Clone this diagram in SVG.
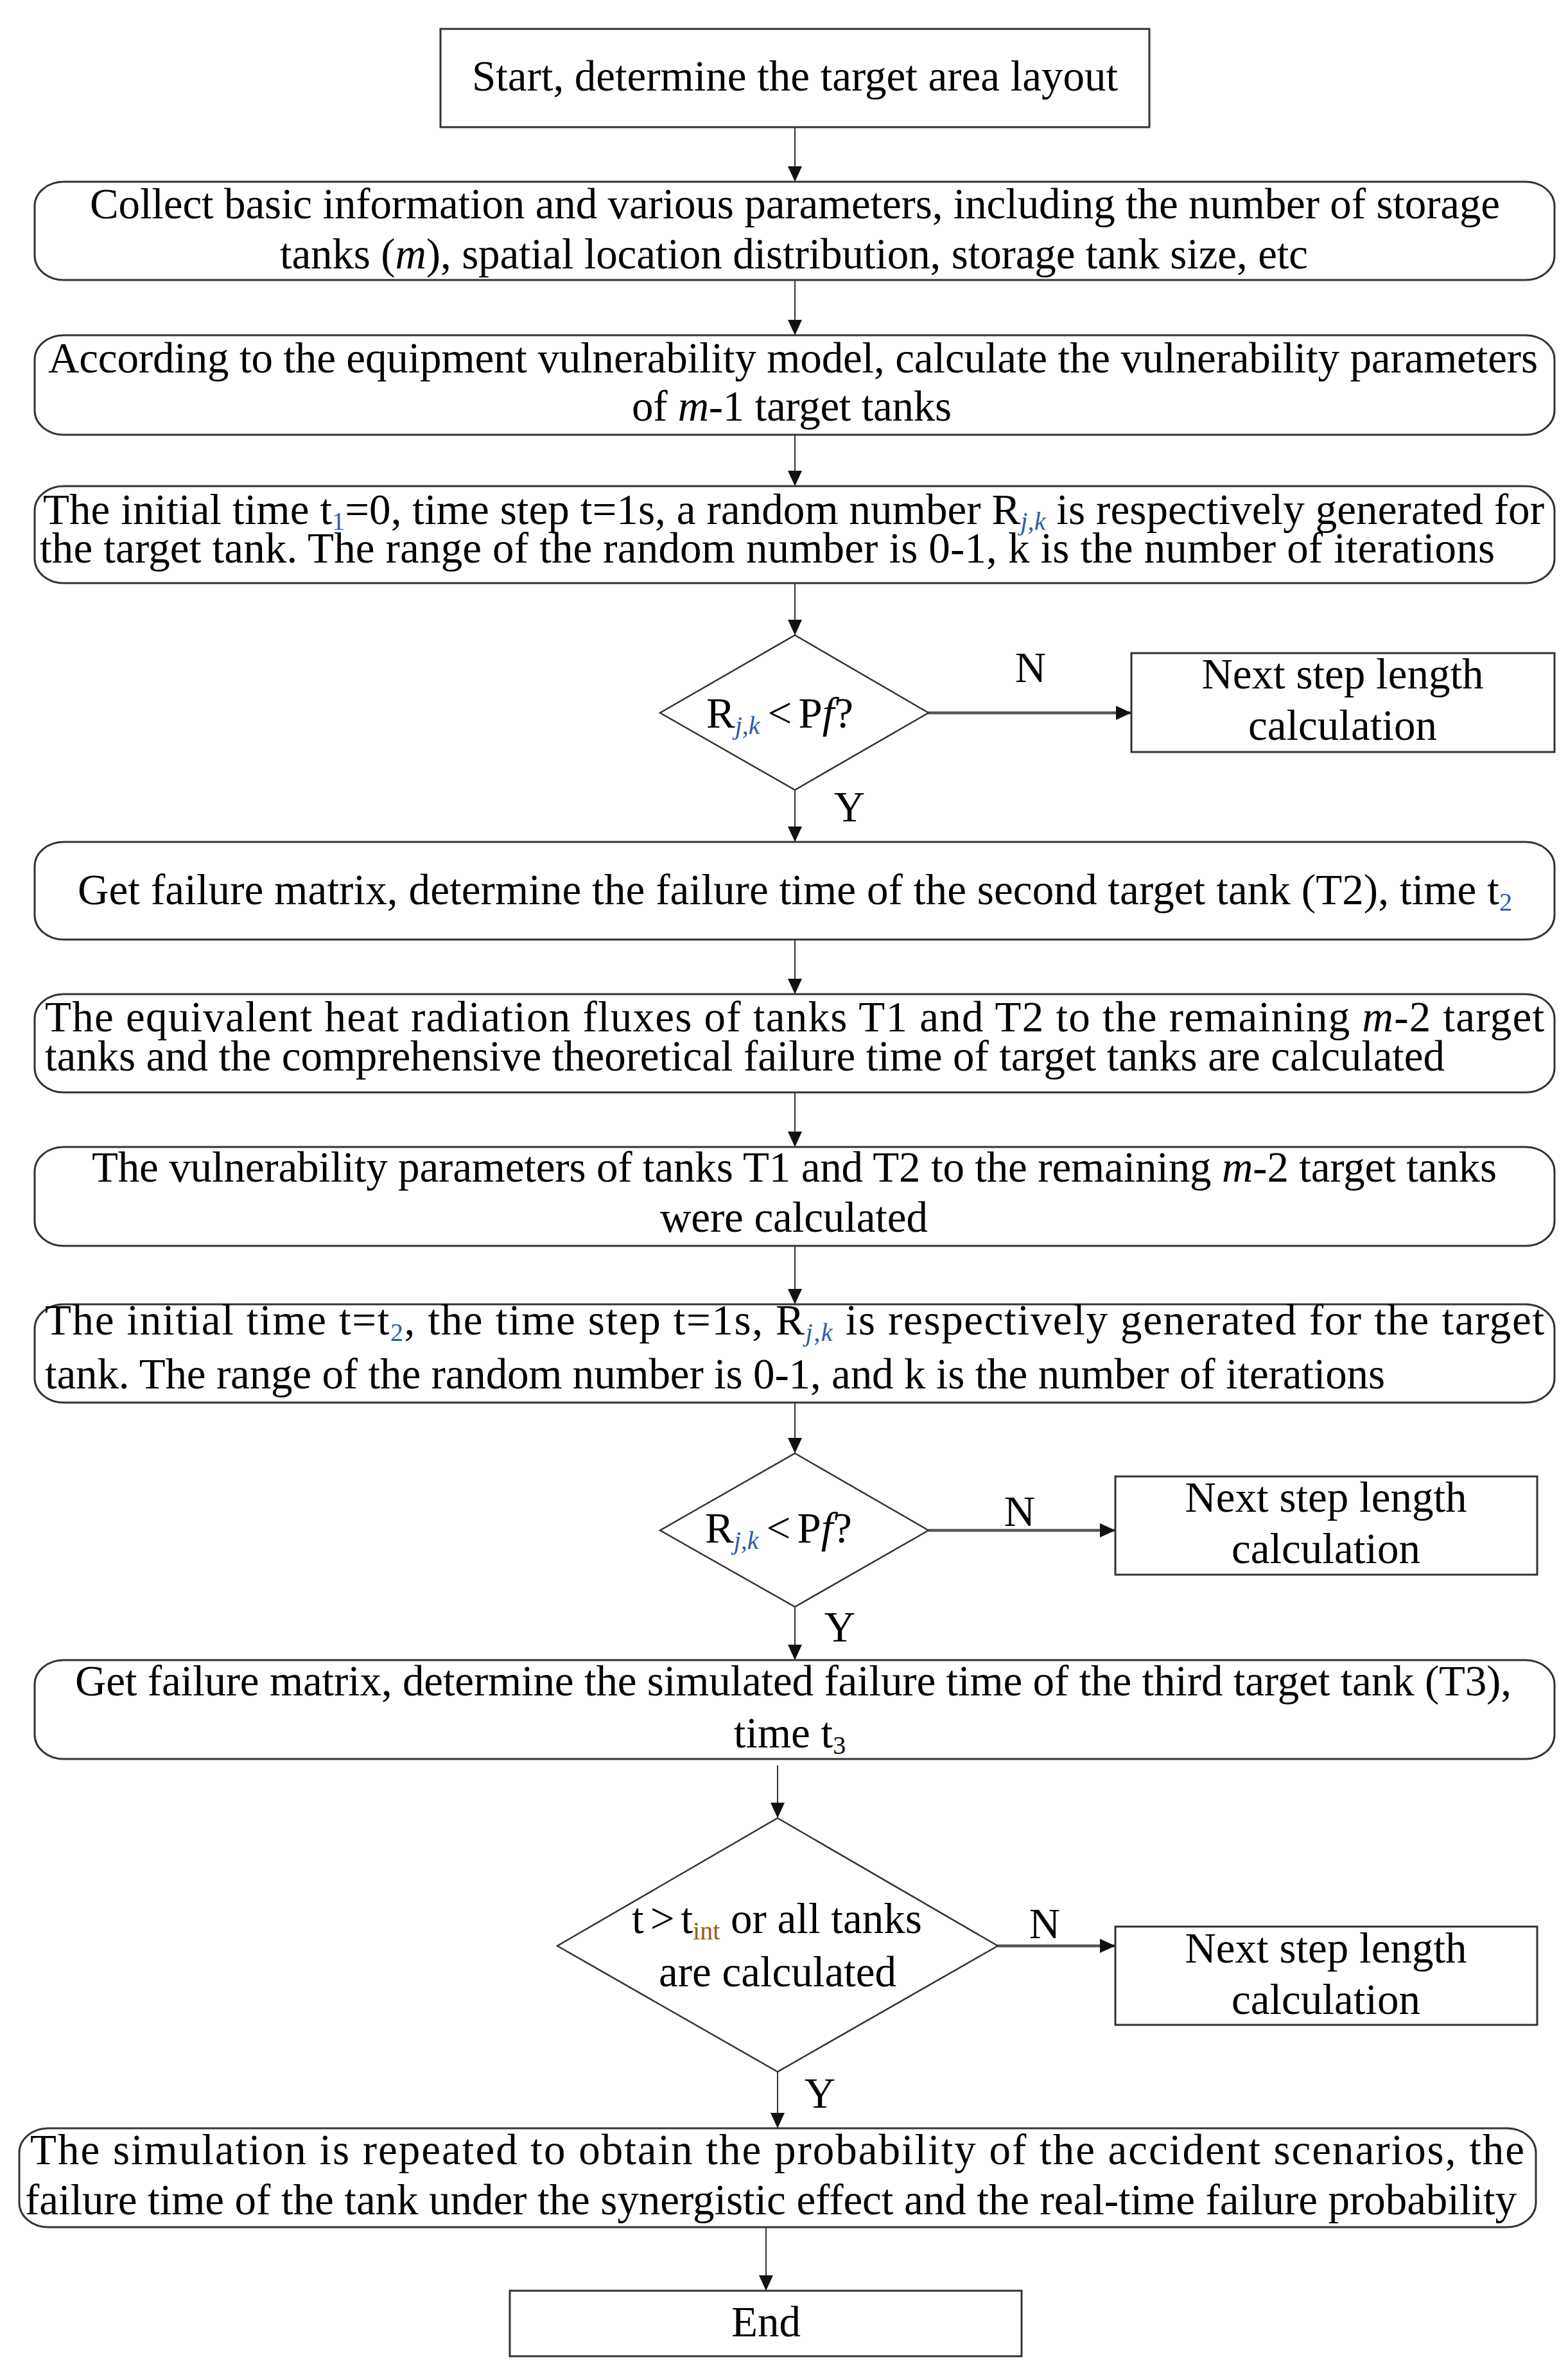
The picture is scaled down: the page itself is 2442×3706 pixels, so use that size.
<svg xmlns="http://www.w3.org/2000/svg" width="2442" height="3706" viewBox="0 0 2442 3706">
<style>
.t{font-family:"Liberation Serif","Times New Roman","Noto Sans CJK SC",serif;font-size:67px;fill:#000}
.m{text-anchor:middle}
.box{fill:#fff;stroke:#333;stroke-width:3}
.dia{fill:#fff;stroke:#333;stroke-width:2.5}
.c{fill:none;stroke:#333;stroke-width:2;marker-end:url(#ah)}
.cn{fill:none;stroke:#555;stroke-width:4.5;marker-end:url(#ah)}
.sub{font-size:40px}
.i{font-style:italic}
.blue{fill:#2a5caa}
.org{fill:#9a5a10}
</style>
<defs>
<marker id="ah" markerUnits="userSpaceOnUse" markerWidth="26" markerHeight="24" refX="24" refY="11" orient="auto">
<path d="M0,0 L24,11 L0,22 z" fill="#111"/>
</marker>
</defs>

<g id="connectors">
<path class="c" d="M1238 198 V283"/>
<path class="c" d="M1238 436 V522"/>
<path class="c" d="M1238 677 V757"/>
<path class="c" d="M1238 908 V989"/>
<path class="cn" d="M1446 1110 H1762"/>
<path class="c" d="M1238 1230 V1311"/>
<path class="c" d="M1238 1463 V1548"/>
<path class="c" d="M1238 1701 V1786"/>
<path class="c" d="M1238 1940 V2031"/>
<path class="c" d="M1238 2184 V2263"/>
<path class="cn" d="M1446 2383 H1737"/>
<path class="c" d="M1238 2502 V2585"/>
<path class="c" d="M1211 2749 V2831"/>
<path class="cn" d="M1554 3030 H1737"/>
<path class="c" d="M1211 3226 V3314"/>
<path class="c" d="M1193 3468 V3567"/>
<text class="t m" x="1605" y="1062">N</text>
<text class="t m" x="1323" y="1279">Y</text>
<text class="t m" x="1588" y="2376">N</text>
<text class="t m" x="1308" y="2556">Y</text>
<text class="t m" x="1627" y="3018">N</text>
<text class="t m" x="1277" y="3282">Y</text>
</g>

<g id="start">
<rect class="box" x="686" y="45" width="1104" height="153"/>
<text class="t" x="735" y="141" textLength="1006">Start, determine the target area layout</text>
</g>

<g id="collect">
<rect class="box" x="54" y="283" width="2367" height="153" rx="45" ry="38"/>
<text class="t" x="140" y="340" textLength="2196">Collect basic information and various parameters, including the number of storage</text>
<text class="t" x="436" y="418" textLength="1601">tanks (<tspan class="i">m</tspan>), spatial location distribution, storage tank size, etc</text>
</g>

<g id="vulnerability1">
<rect class="box" x="54" y="522" width="2367" height="155" rx="45" ry="38"/>
<text class="t" x="75" y="580" textLength="2320">According to the equipment vulnerability model, calculate the vulnerability parameters</text>
<text class="t" x="984" y="655" textLength="498">of <tspan class="i">m</tspan>-1 target tanks</text>
</g>

<g id="initial1">
<rect class="box" x="54" y="757" width="2367" height="151" rx="45" ry="38"/>
<text class="t" x="67" y="816" textLength="2338">The initial time t<tspan class="sub blue" dy="9">1</tspan><tspan dy="-9">=0, time step t=1s, a random number R</tspan><tspan class="sub i blue" dy="9">j,k</tspan><tspan dy="-9"> is respectively generated for</tspan></text>
<text class="t" x="62" y="876" textLength="2266">the target tank. The range of the random number is 0-1,  k is the number of iterations</text>
</g>

<g id="decision1">
<polygon class="dia" points="1238,989 1446,1110 1238,1230 1028,1110"/>
<text class="t" x="1100" y="1133">R<tspan class="sub i blue" dy="10">j,k</tspan><tspan dx="12" dy="-10">&lt;</tspan><tspan dx="10">P</tspan><tspan class="i">f</tspan>?</text>
</g>

<g id="next1">
<rect class="box" x="1762" y="1017" width="659" height="154"/>
<text class="t m" x="2091" y="1072">Next step length</text>
<text class="t m" x="2091" y="1152">calculation</text>
</g>

<g id="failure2">
<rect class="box" x="54" y="1311" width="2367" height="152" rx="45" ry="38"/>
<text class="t" x="121" y="1408" textLength="2234">Get failure matrix, determine the  failure time of the second target tank (T2), time t<tspan class="sub blue" dy="10">2</tspan></text>
</g>

<g id="heat">
<rect class="box" x="54" y="1548" width="2367" height="153" rx="45" ry="38"/>
<text class="t" x="70" y="1606" textLength="2335">The equivalent heat radiation fluxes of tanks T1 and T2 to the remaining <tspan class="i">m</tspan>-2 target</text>
<text class="t" x="70" y="1667" textLength="2180">tanks and the comprehensive theoretical failure time of target tanks are calculated</text>
</g>

<g id="vulnerability2">
<rect class="box" x="54" y="1786" width="2367" height="154" rx="45" ry="38"/>
<text class="t" x="143" y="1840" textLength="2188">The vulnerability parameters of tanks T1 and T2 to the remaining <tspan class="i">m</tspan>-2 target tanks</text>
<text class="t" x="1028" y="1918" textLength="417">were calculated</text>
</g>

<g id="initial2">
<rect class="box" x="54" y="2031" width="2367" height="153" rx="45" ry="38"/>
<text class="t" x="70" y="2078" textLength="2335">The initial time t=t<tspan class="sub blue" dy="10">2</tspan><tspan dy="-10">, the time step t=1s, R</tspan><tspan class="sub i blue" dy="10">j,k</tspan><tspan dy="-10"> is respectively generated for the target</tspan></text>
<text class="t" x="70" y="2162" textLength="2087">tank. The range of the random number is 0-1, and k is the number of iterations</text>
</g>

<g id="decision2">
<polygon class="dia" points="1238,2263 1446,2383 1238,2502 1028,2383"/>
<text class="t" x="1098" y="2402">R<tspan class="sub i blue" dy="10">j,k</tspan><tspan dx="12" dy="-10">&lt;</tspan><tspan dx="10">P</tspan><tspan class="i">f</tspan>?</text>
</g>

<g id="next2">
<rect class="box" x="1737" y="2299" width="657" height="153"/>
<text class="t m" x="2065" y="2354">Next step length</text>
<text class="t m" x="2065" y="2434">calculation</text>
</g>

<g id="failure3">
<rect class="box" x="54" y="2585" width="2367" height="154" rx="45" ry="38"/>
<text class="t" x="117" y="2640" textLength="2237">Get failure matrix, determine the simulated failure time of the third target tank (T3),</text>
<text class="t m" x="1230" y="2721">time t<tspan class="sub" dy="10">3</tspan></text>
</g>

<g id="decision3">
<polygon class="dia" points="1211,2831 1554,3030 1211,3226 868,3030"/>
<text class="t" x="984" y="3010">t<tspan dx="10">&gt;</tspan><tspan dx="10">t</tspan><tspan class="sub org" dy="10">int</tspan><tspan dy="-10"> or all tanks</tspan></text>
<text class="t m" x="1211" y="3093">are calculated</text>
</g>

<g id="next3">
<rect class="box" x="1737" y="3000" width="657" height="153"/>
<text class="t m" x="2065" y="3056">Next step length</text>
<text class="t m" x="2065" y="3136">calculation</text>
</g>

<g id="simulation">
<rect class="box" x="30" y="3314" width="2362" height="154" rx="45" ry="38"/>
<text class="t" x="47" y="3370" textLength="2327">The simulation is repeated to obtain the probability of the accident scenarios, the</text>
<text class="t" x="39" y="3448" textLength="2323">failure time of the tank under the synergistic effect and the real-time failure probability</text>
</g>

<g id="end">
<rect class="box" x="794" y="3567" width="797" height="102"/>
<text class="t m" x="1193" y="3638">End</text>
</g>
</svg>
